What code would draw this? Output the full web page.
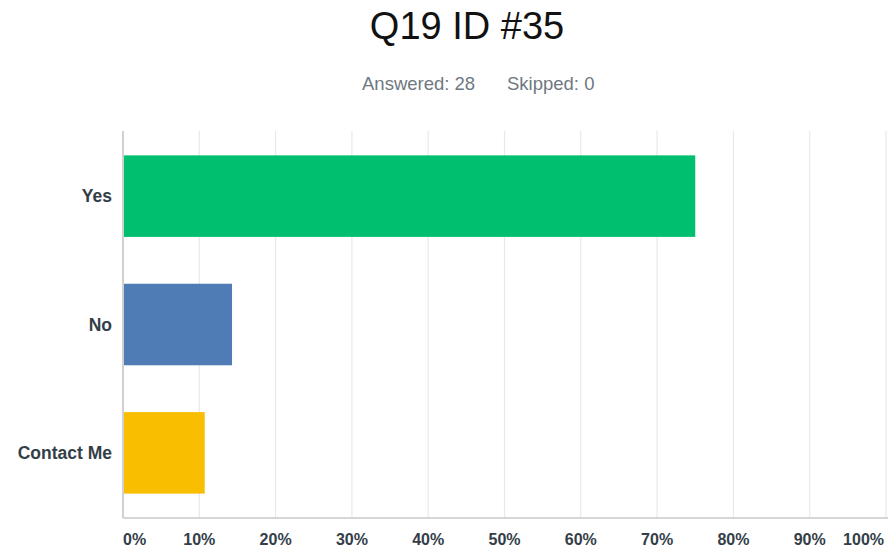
<!DOCTYPE html>
<html>
<head>
<meta charset="utf-8">
<script src="https://cdn.jsdelivr.net/npm/d3@7"></script>
<style>
  html, body { margin: 0; padding: 0; background: #fff; }
  svg { display: block; }
</style>
</head>
<body>
<div id="visualization"></div>
<script>
const title = "Q19 ID #35";
const answered = 28;
const skipped = 0;

const categories = ["Yes", "No", "Contact Me"];
const percents = [75.0, 14.29, 10.71];
const colors = ["#00bf6f", "#507cb6", "#f9be00"];
const ticks = [0, 10, 20, 30, 40, 50, 60, 70, 80, 90, 100];

const dataset = categories.map((c, i) => ({ label: c, value: percents[i], color: colors[i] }));

function buildBarChart(dataset) {
  const svgWidth = 888;
  const svgHeight = 549;

  const svg = d3
    .select("#visualization")
    .append("svg")
    .attr("width", svgWidth)
    .attr("height", svgHeight);

  const margin = { top: 131, right: 2, bottom: 31, left: 123 };

  const xScale = d3
    .scaleLinear()
    .domain([0, 100])
    .range([margin.left, svgWidth - margin.right]);

  const yScale = d3
    .scaleBand()
    .domain(dataset.map(d => d.label))
    .range([margin.top, svgHeight - margin.bottom])
    .paddingInner(0.365)
    .paddingOuter(0.19);

  // title + answered/skipped line
  svg.append("text")
    .attr("x", 467)
    .attr("y", 39)
    .attr("text-anchor", "middle")
    .attr("font-family", "Liberation Sans, Arial, sans-serif")
    .attr("font-size", 38)
    .attr("fill", "#111")
    .text(title);

  const sub = svg.append("g")
    .attr("font-family", "Liberation Sans, Arial, sans-serif")
    .attr("font-size", 18.5)
    .attr("fill", "#6f7880");
  sub.append("text").attr("x", 362).attr("y", 90).text(`Answered: ${answered}`);
  sub.append("text").attr("x", 507).attr("y", 90).text(`Skipped: ${skipped}`);

  // gridlines
  svg.append("g")
    .selectAll("line")
    .data(ticks.filter(t => t > 0))
    .join("line")
    .attr("x1", d => xScale(d))
    .attr("x2", d => xScale(d))
    .attr("y1", margin.top)
    .attr("y2", svgHeight - margin.bottom)
    .attr("stroke", "#e8e8e8")
    .attr("stroke-width", 1.2);

  svg.append("g")
    .selectAll("rect")
    .data(dataset, d => d.label)
    .join("rect")
    .attr("x", xScale(0))
    .attr("y", d => yScale(d.label))
    .attr("width", d => xScale(d.value) - xScale(0))
    .attr("height", yScale.bandwidth())
    .attr("fill", d => d.color);

  // axis lines
  svg.append("line")
    .attr("x1", xScale(0)).attr("x2", svgWidth)
    .attr("y1", svgHeight - margin.bottom).attr("y2", svgHeight - margin.bottom)
    .attr("stroke", "#d6d6d6").attr("stroke-width", 2);
  svg.append("line")
    .attr("x1", xScale(0)).attr("x2", xScale(0))
    .attr("y1", margin.top).attr("y2", svgHeight - margin.bottom)
    .attr("stroke", "#d0d0d0").attr("stroke-width", 2);

  // x tick labels, first and last pulled inside
  svg.append("g")
    .attr("font-family", "Liberation Sans, Arial, sans-serif")
    .attr("font-weight", "bold")
    .attr("font-size", 16)
    .attr("fill", "#333e48")
    .selectAll("text")
    .data(ticks)
    .join("text")
    .attr("x", d => d === 0 ? xScale(0) : d === 100 ? xScale(100) - 2 : xScale(d))
    .attr("y", 545)
    .attr("text-anchor", d => d === 0 ? "start" : d === 100 ? "end" : "middle")
    .text(d => d + "%");

  // category labels
  svg.append("g")
    .attr("font-family", "Liberation Sans, Arial, sans-serif")
    .attr("font-weight", "bold")
    .attr("font-size", 17.5)
    .attr("fill", "#333e48")
    .selectAll("text")
    .data(dataset)
    .join("text")
    .attr("x", 112)
    .attr("y", d => yScale(d.label) + yScale.bandwidth() / 2)
    .attr("dy", "0.35em")
    .attr("text-anchor", "end")
    .text(d => d.label);
}

buildBarChart(dataset);
</script>
</body>
</html>
